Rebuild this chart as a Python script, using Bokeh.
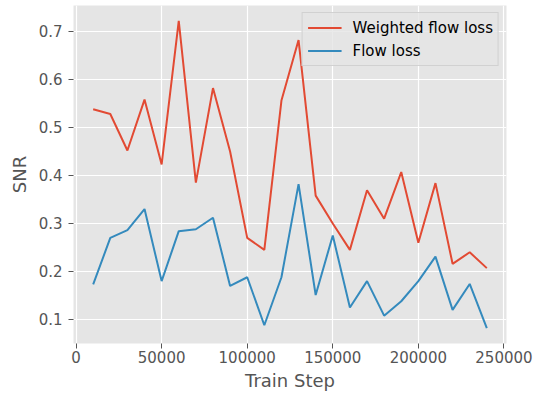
from bokeh.plotting import figure
from bokeh.models import FixedTicker, NumeralTickFormatter, Range1d, Legend, LegendItem
from bokeh.embed import file_html
from bokeh.resources import INLINE

steps = [10000, 20000, 30000, 40000, 50000, 60000, 70000, 80000, 90000, 100000,
         110000, 120000, 130000, 140000, 150000, 160000, 170000, 180000, 190000, 200000,
         210000, 220000, 230000, 240000]
weighted_flow_loss = [0.538, 0.528, 0.452, 0.558, 0.423, 0.722, 0.385, 0.582, 0.450, 0.270,
                      0.245, 0.556, 0.682, 0.358, 0.300, 0.245, 0.369, 0.310, 0.407, 0.260,
                      0.384, 0.216, 0.240, 0.207]
flow_loss = [0.173, 0.270, 0.286, 0.330, 0.180, 0.284, 0.288, 0.312, 0.170, 0.188,
             0.088, 0.188, 0.382, 0.151, 0.275, 0.125, 0.180, 0.108, 0.138, 0.180,
             0.231, 0.120, 0.174, 0.082]
x_ticks = [0, 50000, 100000, 150000, 200000, 250000]
y_ticks = [0.1, 0.2, 0.3, 0.4, 0.5, 0.6, 0.7]

FONT = "DejaVu Sans"
GRAY = "#555555"

p = figure(frame_width=433, frame_height=338, output_backend="svg", toolbar_location=None,
           x_range=Range1d(-1500, 251500), y_range=Range1d(0.050, 0.754),
           min_border_left=73, min_border_right=33, min_border_top=5, min_border_bottom=51)

p.background_fill_color = "#E5E5E5"
p.border_fill_color = "white"
p.outline_line_color = None

r1 = p.line(steps, weighted_flow_loss, line_color="#E24A33", line_width=2)
r2 = p.line(steps, flow_loss, line_color="#348ABD", line_width=2)

p.xaxis.ticker = FixedTicker(ticks=x_ticks)
p.yaxis.ticker = FixedTicker(ticks=y_ticks)
p.xaxis.formatter = NumeralTickFormatter(format="0")
p.yaxis.formatter = NumeralTickFormatter(format="0.0")

for ax in (p.xaxis, p.yaxis):
    ax.axis_line_color = None
    ax.major_tick_line_color = GRAY
    ax.major_tick_out = 5
    ax.major_tick_in = 0
    ax.minor_tick_line_color = None
    ax.major_label_text_font = FONT
    ax.major_label_text_font_size = "15px"
    ax.major_label_text_color = GRAY
    ax.axis_label_text_font = FONT
    ax.axis_label_text_font_size = "18px"
    ax.axis_label_text_color = GRAY
    ax.axis_label_text_font_style = "normal"

p.xaxis.axis_label = "Train Step"
p.yaxis.axis_label = "SNR"
p.xaxis.major_label_standoff = 2
p.xaxis.axis_label_standoff = 4
p.yaxis.major_label_standoff = 6
p.yaxis.axis_label_standoff = 6

p.grid.grid_line_color = "white"
p.grid.grid_line_width = 1.2
p.xgrid.ticker = FixedTicker(ticks=x_ticks)
p.ygrid.ticker = FixedTicker(ticks=y_ticks)

legend = Legend(items=[LegendItem(label="Weighted flow loss", renderers=[r1]),
                       LegendItem(label="Flow loss", renderers=[r2])],
                location="top_right")
legend.background_fill_color = "#E5E5E5"
legend.background_fill_alpha = 0.8
legend.border_line_color = "#CCCCCC"
legend.border_line_alpha = 0.8
legend.label_text_font = FONT
legend.label_text_font_size = "15px"
legend.label_text_color = "black"
legend.glyph_width = 34
legend.glyph_height = 19
legend.label_height = 19
legend.spacing = 4
legend.padding = 5
legend.margin = 7
legend.label_standoff = 11
p.add_layout(legend)

open("out.html", "w").write(file_html(p, INLINE))
